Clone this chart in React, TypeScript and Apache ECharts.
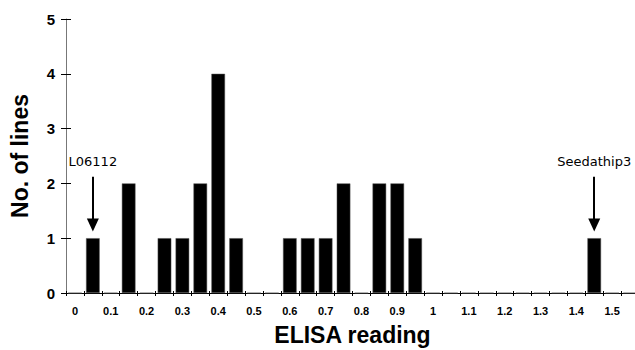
import React, { useEffect, useRef } from "react";
import * as echarts from "echarts";

const categories = [
  "0", "0.05", "0.1", "0.15", "0.2", "0.25", "0.3", "0.35", "0.4", "0.45",
  "0.5", "0.55", "0.6", "0.65", "0.7", "0.75", "0.8", "0.85", "0.9", "0.95",
  "1", "1.05", "1.1", "1.15", "1.2", "1.25", "1.3", "1.35", "1.4", "1.45",
  "1.5", "1.55",
];
const counts = [
  0, 1, 0, 2, 0, 1, 1, 2, 4, 1,
  0, 0, 1, 1, 1, 2, 0, 2, 2, 1,
  0, 0, 0, 0, 0, 0, 0, 0, 0, 1,
  0, 0,
];
const annotations = [
  { name: "L06112", category: "0.05" },
  { name: "Seedathip3", category: "1.45" },
];
const arrowTop = 2.12;
const arrowTip = 1.24;
const labelLevel = 2.4;

const SANS = "'Liberation Sans', Arial, sans-serif";
const VERD = "'DejaVu Sans', Verdana, sans-serif";

export default function App() {
  const ref = useRef<HTMLDivElement>(null);
  useEffect(() => {
    if (!ref.current) return;
    const chart = echarts.init(ref.current, undefined, { renderer: "svg" });
    const xBase = {
      type: "category" as const,
      data: categories,
      position: "bottom" as const,
      boundaryGap: true,
    };
    chart.setOption({
      animation: false,
      backgroundColor: "#fff",
      grid: { left: 66, top: 19, width: 573, bottom: 57, outerBoundsMode: "none", containLabel: false },
      xAxis: [
        {
          ...xBase,
          name: "ELISA reading",
          nameLocation: "middle",
          nameGap: 30,
          nameTextStyle: { fontFamily: SANS, fontWeight: "bold", fontSize: 23, color: "#000" },
          axisLine: { show: true, lineStyle: { color: "#000", width: 1 } },
          axisTick: { show: true, interval: 0, length: 3, lineStyle: { color: "#000" } },
          axisLabel: {
            interval: 1,
            margin: 12,
            fontFamily: SANS,
            fontWeight: "bold",
            fontSize: 11,
            color: "#000",
            formatter: (v: string) => (v === "1.55" ? "" : v),
          },
          splitLine: { show: false },
        },
        {
          ...xBase,
          axisLine: { show: false },
          axisTick: { show: true, inside: true, interval: 0, length: 2, lineStyle: { color: "#000" } },
          axisLabel: { show: false },
          splitLine: { show: false },
        },
      ],
      yAxis: [
        {
          type: "value",
          position: "left",
          min: 0,
          max: 5,
          interval: 1,
          name: "No. of lines",
          nameLocation: "middle",
          nameGap: 35,
          nameRotate: 90,
          nameTextStyle: { fontFamily: SANS, fontWeight: "bold", fontSize: 23, color: "#000" },
          axisLine: { show: true, lineStyle: { color: "#777", width: 1 } },
          axisTick: { show: true, length: 5, lineStyle: { color: "#000" } },
          axisLabel: { margin: 11, fontFamily: SANS, fontWeight: "bold", fontSize: 15, color: "#000" },
          splitLine: { show: false },
        },
        {
          type: "value",
          position: "left",
          offset: 0,
          min: 0,
          max: 5,
          interval: 1,
          axisLine: { show: false },
          axisTick: { show: true, inside: true, length: 5, lineStyle: { color: "#000" } },
          axisLabel: { show: false },
          splitLine: { show: false },
        },
      ],
      series: [
        {
          type: "bar",
          xAxisIndex: 0,
          yAxisIndex: 0,
          data: counts,
          barCategoryGap: "24%",
          itemStyle: { color: "#000", borderColor: "#555", borderWidth: 0.5 },
          silent: true,
          markLine: {
            silent: true,
            symbol: ["none", "triangle"],
            symbolSize: [12, 13],
            label: { show: false },
            lineStyle: { color: "#000", width: 2, type: "solid" },
            data: annotations.map((a) => [
              { coord: [a.category, arrowTop] },
              { coord: [a.category, arrowTip] },
            ]),
          },
          markPoint: {
            silent: true,
            symbol: "circle",
            symbolSize: 0,
            label: {
              show: true,
              position: "inside",
              fontFamily: VERD,
              fontSize: 13,
              color: "#000",
              formatter: (p: any) => p.name,
            },
            data: annotations.map((a) => ({ name: a.name, coord: [a.category, labelLevel] })),
          },
        },
      ],
    });
    return () => chart.dispose();
  }, []);
  return <div ref={ref} style={{ width: 635, height: 350, position: "absolute", left: 0, top: 0 }} />;
}
